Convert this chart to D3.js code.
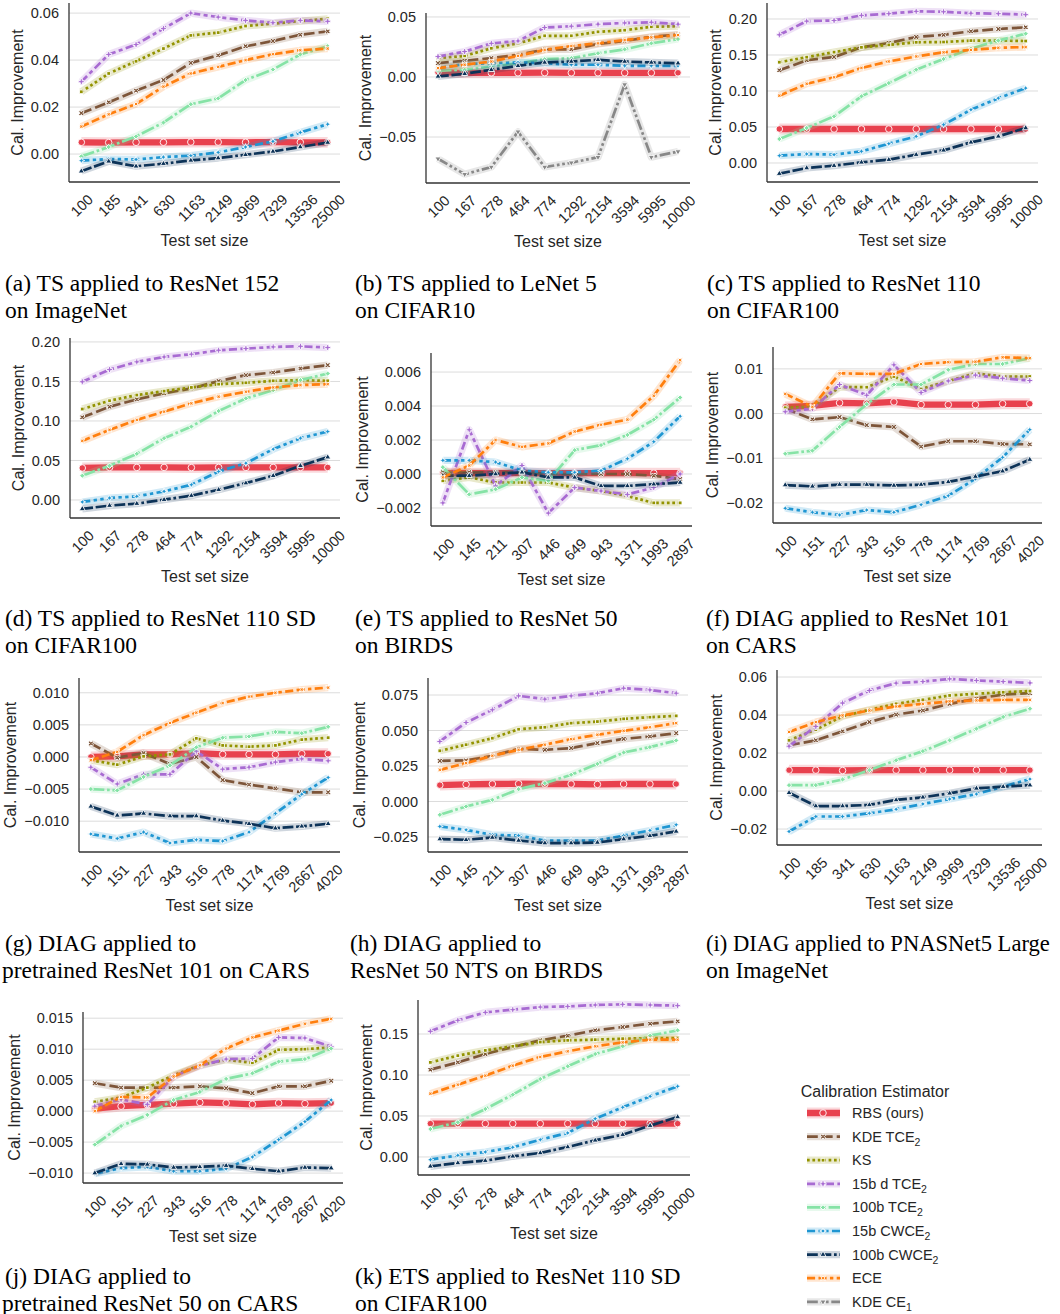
<!DOCTYPE html>
<html>
<head>
<meta charset="utf-8">
<script src="https://cdn.jsdelivr.net/npm/d3@7"></script>
<style>
  body { margin: 0; background: #fff; }
  svg { display: block; }
</style>
</head>
<body>
<script>
// ---- data ----
const estimators = [["RBS (ours)", ""], ["KDE TCE", "2"], ["KS", ""], ["15b d TCE", "2"],
    ["100b TCE", "2"], ["15b CWCE", "2"], ["100b CWCE", "2"], ["ECE", ""], ["KDE CE", "1"]];

const sizesImageNet = ["100", "185", "341", "630", "1163", "2149", "3969", "7329", "13536", "25000"];
const sizesCifar = ["100", "167", "278", "464", "774", "1292", "2154", "3594", "5995", "10000"];
const sizesBirds = ["100", "145", "211", "307", "446", "649", "943", "1371", "1993", "2897"];
const sizesCars = ["100", "151", "227", "343", "516", "778", "1174", "1769", "2667", "4020"];

// series order follows `estimators`
const tsResNet152ImageNet = [
    [0.0050, 0.0049, 0.0050, 0.0050, 0.0051, 0.0051, 0.0050, 0.0051, 0.0050, 0.0050],
    [0.0174, 0.0220, 0.0270, 0.0315, 0.0388, 0.0420, 0.0459, 0.0481, 0.0508, 0.0522],
    [0.0265, 0.0343, 0.0395, 0.0449, 0.0505, 0.0517, 0.0545, 0.0555, 0.0566, 0.0576],
    [0.0308, 0.0424, 0.0466, 0.0534, 0.0600, 0.0583, 0.0569, 0.0559, 0.0569, 0.0565],
    [-0.0010, 0.0030, 0.0075, 0.0134, 0.0212, 0.0237, 0.0315, 0.0360, 0.0424, 0.0459],
    [-0.0028, -0.0021, -0.0023, -0.0013, -0.0007, 0.0007, 0.0030, 0.0054, 0.0092, 0.0127],
    [-0.0073, -0.0031, -0.0052, -0.0041, -0.0027, -0.0017, -0.0003, 0.0011, 0.0030, 0.0049],
    [0.0117, 0.0169, 0.0213, 0.0287, 0.0343, 0.0371, 0.0400, 0.0425, 0.0442, 0.0449]
];
const tsLeNet5Cifar10 = [
    [0.0040, 0.0035, 0.0035, 0.0035, 0.0036, 0.0035, 0.0035, 0.0035, 0.0035, 0.0035],
    [0.0115, 0.0135, 0.0157, 0.0184, 0.0230, 0.0230, 0.0275, 0.0300, 0.0335, 0.0354],
    [0.0157, 0.0176, 0.0239, 0.0280, 0.0343, 0.0343, 0.0376, 0.0390, 0.0418, 0.0423],
    [0.0170, 0.0212, 0.0280, 0.0300, 0.0412, 0.0423, 0.0440, 0.0450, 0.0456, 0.0440],
    [0.0052, 0.0060, 0.0088, 0.0115, 0.0148, 0.0157, 0.0198, 0.0230, 0.0280, 0.0316],
    [0.0074, 0.0107, 0.0115, 0.0121, 0.0115, 0.0102, 0.0102, 0.0093, 0.0093, 0.0093],
    [0.0005, 0.0027, 0.0060, 0.0093, 0.0121, 0.0129, 0.0143, 0.0129, 0.0121, 0.0115],
    [0.0074, 0.0102, 0.0129, 0.0176, 0.0225, 0.0258, 0.0280, 0.0308, 0.0330, 0.0349],
    [-0.0681, -0.0810, -0.0750, -0.0456, -0.0750, -0.0714, -0.0668, -0.0063, -0.0668, -0.0621]
];
const tsResNet110Cifar100 = [
    [0.0472, 0.0472, 0.0472, 0.0472, 0.0472, 0.0472, 0.0472, 0.0472, 0.0472, 0.0472],
    [0.1287, 0.1426, 0.1472, 0.1606, 0.1667, 0.1750, 0.1780, 0.1829, 0.1861, 0.1884],
    [0.1400, 0.1470, 0.1540, 0.1606, 0.1640, 0.1676, 0.1680, 0.1700, 0.1700, 0.1694],
    [0.1780, 0.1970, 0.1980, 0.2050, 0.2074, 0.2106, 0.2100, 0.2080, 0.2074, 0.2060],
    [0.0333, 0.0486, 0.0648, 0.0926, 0.1110, 0.1296, 0.1444, 0.1588, 0.1700, 0.1796],
    [0.0102, 0.0125, 0.0116, 0.0162, 0.0268, 0.0370, 0.0532, 0.0740, 0.0900, 0.1040],
    [-0.0148, -0.0070, -0.0037, 0.0009, 0.0046, 0.0116, 0.0176, 0.0287, 0.0370, 0.0486],
    [0.0935, 0.1100, 0.1190, 0.1320, 0.1410, 0.1480, 0.1537, 0.1570, 0.1600, 0.1610]
];
const tsResNet110SDCifar100 = [
    [0.0405, 0.0412, 0.0412, 0.0412, 0.0410, 0.0412, 0.0412, 0.0412, 0.0412, 0.0412],
    [0.1046, 0.1180, 0.1273, 0.1349, 0.1412, 0.1504, 0.1580, 0.1613, 0.1664, 0.1706],
    [0.1151, 0.1256, 0.1328, 0.1378, 0.1424, 0.1466, 0.1483, 0.1508, 0.1517, 0.1508],
    [0.1496, 0.1650, 0.1748, 0.1810, 0.1845, 0.1895, 0.1916, 0.1937, 0.1945, 0.1929],
    [0.0307, 0.0433, 0.0584, 0.0782, 0.0929, 0.1126, 0.1286, 0.1390, 0.1517, 0.1600],
    [-0.0025, 0.0025, 0.0046, 0.0109, 0.0193, 0.0361, 0.0466, 0.0643, 0.0782, 0.0866],
    [-0.0113, -0.0071, -0.0046, 0.0004, 0.0055, 0.0130, 0.0214, 0.0307, 0.0433, 0.0542],
    [0.0748, 0.0887, 0.1013, 0.1118, 0.1223, 0.1307, 0.1370, 0.1424, 0.1454, 0.1466]
];
const tsResNet50Birds = [
    [0.00005, 0.00005, 0.00005, 0.00005, 0.00005, 0.00005, 0.00005, 0.00005, 0.00005, 0.00005],
    [0.0001, 0.0001, 0.0001, 0.0001, 0.0000, 0.0000, 0.0000, 0.0000, -0.0001, -0.0003],
    [-0.0004, -0.0002, -0.0005, -0.0005, -0.0005, -0.0008, -0.0010, -0.0013, -0.0017, -0.0017],
    [-0.0017, 0.0026, -0.0007, 0.0005, -0.0023, -0.0008, -0.0010, -0.0012, -0.0008, 0.0000],
    [0.0004, -0.0012, -0.0009, -0.0002, -0.0004, 0.0014, 0.0017, 0.0023, 0.0032, 0.0045],
    [0.0008, 0.0008, 0.0007, 0.0002, 0.0001, 0.0001, 0.0002, 0.0009, 0.0019, 0.0034],
    [-0.0001, -0.0001, 0.0000, 0.0001, -0.0002, -0.0002, -0.0007, -0.0007, -0.0006, -0.0005],
    [-0.0002, 0.0005, 0.0020, 0.0016, 0.0018, 0.0025, 0.0029, 0.0032, 0.0046, 0.0067]
];
const diagResNet101Cars = [
    [0.0015, 0.0017, 0.0024, 0.0023, 0.0026, 0.0020, 0.0020, 0.0020, 0.0022, 0.0022],
    [0.0011, -0.0013, -0.0008, -0.0026, -0.0030, -0.0074, -0.0062, -0.0062, -0.0068, -0.0069],
    [0.0013, 0.0015, 0.0059, 0.0059, 0.0083, 0.0055, 0.0073, 0.0090, 0.0083, 0.0083],
    [0.0004, 0.0011, 0.0065, 0.0041, 0.0109, 0.0047, 0.0073, 0.0086, 0.0079, 0.0074],
    [-0.0090, -0.0083, -0.0030, 0.0021, 0.0065, 0.0065, 0.0098, 0.0111, 0.0111, 0.0124],
    [-0.0212, -0.0221, -0.0227, -0.0216, -0.0221, -0.0204, -0.0184, -0.0146, -0.0098, -0.0036],
    [-0.0160, -0.0163, -0.0159, -0.0159, -0.0161, -0.0159, -0.0153, -0.0141, -0.0129, -0.0103],
    [0.0044, 0.0015, 0.0090, 0.0089, 0.0089, 0.0111, 0.0115, 0.0116, 0.0126, 0.0124]
];
const diagPretrainedResNet101Cars = [
    [0.0000, 0.0001, 0.0004, 0.0004, 0.0006, 0.0004, 0.0004, 0.0004, 0.0005, 0.0005],
    [0.0021, -0.0001, 0.0006, -0.0011, 0.0000, -0.0036, -0.0043, -0.0049, -0.0055, -0.0055],
    [-0.0005, -0.0012, 0.0001, 0.0004, 0.0029, 0.0018, 0.0016, 0.0018, 0.0027, 0.0030],
    [-0.0016, -0.0042, -0.0027, -0.0027, 0.0009, -0.0019, -0.0016, -0.0008, -0.0003, -0.0006],
    [-0.0050, -0.0052, -0.0031, -0.0013, 0.0015, 0.0030, 0.0032, 0.0039, 0.0037, 0.0047],
    [-0.0120, -0.0127, -0.0117, -0.0134, -0.0129, -0.0131, -0.0117, -0.0088, -0.0058, -0.0032],
    [-0.0077, -0.0091, -0.0088, -0.0092, -0.0092, -0.0099, -0.0104, -0.0111, -0.0108, -0.0104],
    [-0.0005, 0.0008, 0.0034, 0.0053, 0.0069, 0.0084, 0.0094, 0.0100, 0.0105, 0.0108]
];
const diagResNet50NtsBirds = [
    [0.0115, 0.0120, 0.0123, 0.0125, 0.0123, 0.0123, 0.0120, 0.0123, 0.0123, 0.0123],
    [0.0286, 0.0289, 0.0322, 0.0371, 0.0364, 0.0376, 0.0411, 0.0441, 0.0458, 0.0481],
    [0.0357, 0.0400, 0.0446, 0.0509, 0.0523, 0.0552, 0.0563, 0.0582, 0.0594, 0.0603],
    [0.0423, 0.0556, 0.0646, 0.0744, 0.0721, 0.0744, 0.0763, 0.0798, 0.0786, 0.0763],
    [-0.0094, -0.0035, 0.0012, 0.0087, 0.0129, 0.0188, 0.0265, 0.0345, 0.0383, 0.0430],
    [-0.0176, -0.0200, -0.0235, -0.0240, -0.0275, -0.0275, -0.0275, -0.0240, -0.0204, -0.0164],
    [-0.0265, -0.0270, -0.0254, -0.0275, -0.0293, -0.0293, -0.0289, -0.0265, -0.0242, -0.0211],
    [0.0223, 0.0270, 0.0322, 0.0364, 0.0400, 0.0439, 0.0470, 0.0498, 0.0523, 0.0552]
];
const diagPnasNet5ImageNet = [
    [0.0110, 0.0110, 0.0108, 0.0110, 0.0110, 0.0110, 0.0110, 0.0110, 0.0110, 0.0110],
    [0.0241, 0.0267, 0.0314, 0.0363, 0.0402, 0.0424, 0.0459, 0.0486, 0.0508, 0.0515],
    [0.0267, 0.0323, 0.0393, 0.0428, 0.0459, 0.0480, 0.0503, 0.0512, 0.0520, 0.0526],
    [0.0236, 0.0340, 0.0463, 0.0529, 0.0568, 0.0576, 0.0590, 0.0582, 0.0576, 0.0569],
    [0.0031, 0.0031, 0.0061, 0.0110, 0.0162, 0.0210, 0.0267, 0.0328, 0.0390, 0.0433],
    [-0.0213, -0.0134, -0.0134, -0.0117, -0.0096, -0.0068, -0.0042, -0.0016, 0.0023, 0.0063],
    [-0.0009, -0.0079, -0.0079, -0.0073, -0.0047, -0.0033, -0.0012, 0.0014, 0.0023, 0.0031],
    [0.0311, 0.0363, 0.0398, 0.0424, 0.0445, 0.0459, 0.0472, 0.0477, 0.0480, 0.0480]
];
const diagPretrainedResNet50Cars = [
    [0.0004, 0.0008, 0.0010, 0.0012, 0.0014, 0.0013, 0.0011, 0.0013, 0.0012, 0.0013],
    [0.0045, 0.0038, 0.0038, 0.0038, 0.0040, 0.0037, 0.0029, 0.0040, 0.0040, 0.0049],
    [0.0015, 0.0022, 0.0038, 0.0058, 0.0074, 0.0083, 0.0078, 0.0099, 0.0100, 0.0103],
    [0.0008, 0.0019, 0.0011, 0.0056, 0.0073, 0.0084, 0.0085, 0.0119, 0.0118, 0.0104],
    [-0.0054, -0.0024, -0.0006, 0.0018, 0.0031, 0.0052, 0.0061, 0.0080, 0.0084, 0.0101],
    [-0.0101, -0.0092, -0.0090, -0.0097, -0.0097, -0.0093, -0.0074, -0.0046, -0.0017, 0.0018],
    [-0.0100, -0.0085, -0.0086, -0.0091, -0.0090, -0.0088, -0.0093, -0.0097, -0.0091, -0.0092],
    [0.0000, 0.0023, 0.0022, 0.0056, 0.0074, 0.0101, 0.0119, 0.0130, 0.0141, 0.0149]
];
const etsResNet110SDCifar100 = [
    [0.0407, 0.0407, 0.0407, 0.0407, 0.0407, 0.0407, 0.0407, 0.0407, 0.0407, 0.0407],
    [0.1065, 0.1154, 0.1256, 0.1341, 0.1423, 0.1480, 0.1545, 0.1585, 0.1626, 0.1654],
    [0.1154, 0.1236, 0.1300, 0.1350, 0.1402, 0.1423, 0.1431, 0.1443, 0.1451, 0.1451],
    [0.1533, 0.1667, 0.1764, 0.1797, 0.1829, 0.1837, 0.1854, 0.1862, 0.1854, 0.1846],
    [0.0341, 0.0423, 0.0585, 0.0760, 0.0951, 0.1106, 0.1256, 0.1350, 0.1480, 0.1545],
    [-0.0033, 0.0020, 0.0061, 0.0118, 0.0211, 0.0293, 0.0467, 0.0606, 0.0740, 0.0862],
    [-0.0114, -0.0073, -0.0045, 0.0008, 0.0049, 0.0122, 0.0203, 0.0272, 0.0382, 0.0488],
    [0.0772, 0.0882, 0.0992, 0.1114, 0.1220, 0.1289, 0.1350, 0.1398, 0.1431, 0.1431]
];

const ticks006 = [0, 0.02, 0.04, 0.06];
const ticks005 = [-0.05, 0, 0.05];
const ticks020 = [0, 0.05, 0.10, 0.15, 0.20];
const ticksBirdsTs = [-0.002, 0, 0.002, 0.004, 0.006];
const ticksCarsTs = [-0.02, -0.01, 0, 0.01];
const ticks0010 = [-0.010, -0.005, 0, 0.005, 0.010];
const ticks0075 = [-0.025, 0, 0.025, 0.050, 0.075];
const ticksPnas = [-0.02, 0, 0.02, 0.04, 0.06];
const ticks0015 = [-0.010, -0.005, 0, 0.005, 0.010, 0.015];
const ticks015 = [0, 0.05, 0.10, 0.15];

const panels = [
    { id: "a", sizes: sizesImageNet, values: tsResNet152ImageNet, ticks: ticks006, fmt: ".2f",
      caption: ["(a) TS applied to ResNet 152", "on ImageNet"] },
    { id: "b", sizes: sizesCifar, values: tsLeNet5Cifar10, ticks: ticks005, fmt: ".2f",
      caption: ["(b) TS applied to LeNet 5", "on CIFAR10"] },
    { id: "c", sizes: sizesCifar, values: tsResNet110Cifar100, ticks: ticks020, fmt: ".2f",
      caption: ["(c) TS applied to ResNet 110", "on CIFAR100"] },
    { id: "d", sizes: sizesCifar, values: tsResNet110SDCifar100, ticks: ticks020, fmt: ".2f",
      caption: ["(d) TS applied to ResNet 110 SD", "on CIFAR100"] },
    { id: "e", sizes: sizesBirds, values: tsResNet50Birds, ticks: ticksBirdsTs, fmt: ".3f",
      caption: ["(e) TS applied to ResNet 50", "on BIRDS"] },
    { id: "f", sizes: sizesCars, values: diagResNet101Cars, ticks: ticksCarsTs, fmt: ".2f",
      caption: ["(f) DIAG applied to ResNet 101", "on CARS"] },
    { id: "g", sizes: sizesCars, values: diagPretrainedResNet101Cars, ticks: ticks0010, fmt: ".3f",
      caption: ["(g) DIAG applied to", "pretrained ResNet 101 on CARS"] },
    { id: "h", sizes: sizesBirds, values: diagResNet50NtsBirds, ticks: ticks0075, fmt: ".3f",
      caption: ["(h) DIAG applied to", "ResNet 50 NTS on BIRDS"] },
    { id: "i", sizes: sizesImageNet, values: diagPnasNet5ImageNet, ticks: ticksPnas, fmt: ".2f",
      caption: ["(i) DIAG applied to PNASNet5 Large", "on ImageNet"] },
    { id: "j", sizes: sizesCars, values: diagPretrainedResNet50Cars, ticks: ticks0015, fmt: ".3f",
      caption: ["(j) DIAG applied to", "pretrained ResNet 50 on CARS"] },
    { id: "k", sizes: sizesCifar, values: etsResNet110SDCifar100, ticks: ticks015, fmt: ".2f",
      caption: ["(k) ETS applied to ResNet 110 SD", "on CIFAR100"] }
];

// ---- layout & style ----
// axes box (l, t, r, b), y extent, caption x of each line and first baseline
const layout = {
    a: { l: 69, t: 3, r: 340, b: 182, y: [-0.0119, 0.0643], cx: [5, 5], cy: 291 },
    b: { l: 426, t: 13, r: 690, b: 183, y: [-0.0883, 0.0533], cx: [355, 355], cy: 291 },
    c: { l: 767, t: 3, r: 1038, b: 182, y: [-0.0264, 0.2222], cx: [707, 707], cy: 291 },
    d: { l: 70, t: 338, r: 340, b: 518, y: [-0.0228, 0.205], cx: [5, 5], cy: 626 },
    e: { l: 431, t: 353, r: 692, b: 526, y: [-0.00306, 0.00712], cx: [355, 355], cy: 626 },
    f: { l: 773, t: 347, r: 1042, b: 523, y: [-0.0245, 0.0149], cx: [706, 706], cy: 626 },
    g: { l: 79, t: 678, r: 340, b: 852, y: [-0.0148, 0.0123], cx: [5, 2], cy: 951 },
    h: { l: 428, t: 678, r: 688, b: 852, y: [-0.0356, 0.087], cx: [350, 350], cy: 951 },
    i: { l: 777, t: 670, r: 1042, b: 845, y: [-0.0284, 0.0637], cx: [706, 706], cy: 951 },
    j: { l: 83, t: 1012, r: 343, b: 1183, y: [-0.0116, 0.016], cx: [5, 2], cy: 1284 },
    k: { l: 418, t: 1000, r: 690, b: 1175, y: [-0.022, 0.1915], cx: [355, 355], cy: 1284 }
};

const colors = ["#e8414e", "#7d5539", "#939300", "#a86bd2", "#86e3a6", "#1f96d2", "#0d3358", "#ff7f0e", "#888888"];
// seaborn style dash patterns, in units of line width
const dashes = [[], [4, 1.5], [1, 1], [3, 1.25, 1.5, 1.25], [5, 1, 1, 1],
    [3, 1.25, 1.25, 1.25, 1.25, 1.25], [4, 1, 4, 1, 1, 1], [3, 1.25, 3, 1.25, 1.25, 1.25], [4, 1, 1, 1, 1, 1]];
const widths = [6.3, 2.7, 2.7, 2.7, 2.7, 2.7, 2.7, 2.7, 2.7];

const star4 = {
    draw(ctx, size) {
        const r = Math.sqrt(size) * 0.8, ri = r * 0.4;
        for (let k = 0; k < 8; k++) {
            const a = k * Math.PI / 4 - Math.PI / 2, rr = k % 2 ? ri : r;
            if (k) ctx.lineTo(rr * Math.cos(a), rr * Math.sin(a)); else ctx.moveTo(rr * Math.cos(a), rr * Math.sin(a));
        }
        ctx.closePath();
    }
};
const markers = [
    { type: d3.symbolCircle, rot: 0, size: 34 },
    { type: d3.symbolCross, rot: 45, size: 18 },
    { type: d3.symbolSquare, rot: 0, size: 14 },
    { type: d3.symbolCross, rot: 0, size: 20 },
    { type: d3.symbolSquare, rot: 45, size: 14 },
    { type: star4, rot: 0, size: 18 },
    { type: d3.symbolTriangle, rot: 0, size: 16 },
    { type: star4, rot: 45, size: 18 },
    { type: d3.symbolTriangle, rot: 180, size: 16 }
];

const SANS = "'Liberation Sans', Arial, sans-serif";
const SERIF = "'Liberation Serif', 'Times New Roman', serif";
const tickSize = 14.5;
const labelSize = 16;
const captionSize = 23.5;

const svg = d3.select("body").append("svg").attr("width", 1060).attr("height", 1314);

function drawSeries(g, i, pts, markerPts) {
    const lw = widths[i];
    const line = d3.line().x(d => d[0]).y(d => d[1]);
    g.append("path").attr("d", line(pts)).attr("fill", "none")
        .attr("stroke", colors[i]).attr("stroke-opacity", 0.2)
        .attr("stroke-width", lw + 4.5).attr("stroke-linejoin", "round");
    g.append("path").attr("d", line(pts)).attr("fill", "none")
        .attr("stroke", colors[i]).attr("stroke-width", lw)
        .attr("stroke-dasharray", dashes[i].map(v => v * lw).join(","));
    const m = markers[i];
    g.selectAll(null).data(markerPts || pts).join("path")
        .attr("d", d3.symbol().type(m.type).size(m.size))
        .attr("transform", d => `translate(${d[0]},${d[1]}) rotate(${m.rot})`)
        .attr("fill", colors[i]).attr("stroke", "#fff").attr("stroke-width", 0.9);
}

function drawPanel(p) {
    const L = layout[p.id];
    const x = d3.scalePoint().domain(p.sizes).range([L.l, L.r]).padding(0.45);
    const y = d3.scaleLinear().domain(L.y).range([L.b, L.t]);
    const g = svg.append("g");

    g.selectAll(null).data(p.ticks).join("line")
        .attr("x1", L.l).attr("x2", L.r)
        .attr("y1", d => y(d)).attr("y2", d => y(d))
        .attr("stroke", "#dcdcdc").attr("stroke-width", 1);

    const yAxis = g.append("g").attr("transform", `translate(${L.l},0)`)
        .call(d3.axisLeft(y).tickValues(p.ticks).tickFormat(d3.format(p.fmt)).tickSize(0).tickPadding(10));
    yAxis.select(".domain").remove();
    yAxis.attr("font-family", SANS).attr("font-size", tickSize);
    yAxis.selectAll("text").attr("fill", "#262626");

    const xAxis = g.append("g").attr("transform", `translate(0,${L.b})`)
        .call(d3.axisBottom(x).tickSize(0).tickPadding(0));
    xAxis.select(".domain").remove();
    xAxis.attr("font-family", SANS).attr("font-size", tickSize);
    let maxH = 0;
    xAxis.selectAll("text").each(function () {
        const len = this.getComputedTextLength();
        const h = (len + tickSize * 0.75) * Math.SQRT1_2;
        maxH = Math.max(maxH, h);
        d3.select(this).attr("fill", "#262626").attr("y", 0).attr("dy", "0.35em")
            .attr("text-anchor", "middle")
            .attr("transform", `translate(0,${11 + h / 2}) rotate(-45)`);
    });

    const lines = g.append("g");
    p.values.forEach((vals, i) => {
        drawSeries(lines, i, vals.map((v, j) => [x(p.sizes[j]), y(v)]));
    });

    g.append("line").attr("x1", L.l).attr("x2", L.l).attr("y1", L.t).attr("y2", L.b)
        .attr("stroke", "#333").attr("stroke-width", 1.3);
    g.append("line").attr("x1", L.l).attr("x2", L.r).attr("y1", L.b).attr("y2", L.b)
        .attr("stroke", "#333").attr("stroke-width", 1.3);

    const bb = yAxis.node().getBBox();
    const lx = L.l + bb.x - 8, ly = (L.t + L.b) / 2;
    g.append("text").attr("transform", `translate(${lx},${ly}) rotate(-90)`)
        .attr("text-anchor", "middle").attr("font-family", SANS).attr("font-size", labelSize)
        .attr("fill", "#262626").text("Cal. Improvement");

    g.append("text").attr("x", (L.l + L.r) / 2).attr("y", L.b + 11 + maxH + 17)
        .attr("text-anchor", "middle").attr("font-family", SANS).attr("font-size", labelSize)
        .attr("fill", "#262626").text("Test set size");

    p.caption.forEach((c, k) => {
        const t = svg.append("text").attr("x", L.cx[k]).attr("y", L.cy + k * 26.5)
            .attr("font-family", SERIF).attr("font-size", captionSize).attr("fill", "#000").text(c);
        // shrink a caption line that would run past the right edge
        const room = 1050 - L.cx[k];
        const len = t.node().getComputedTextLength();
        if (len > room) t.attr("font-size", captionSize * room / len);
    });
}

panels.forEach(drawPanel);

// legend
const leg = svg.append("g");
leg.append("text").attr("x", 875).attr("y", 1097).attr("text-anchor", "middle")
    .attr("font-family", SANS).attr("font-size", 16).attr("fill", "#262626").text("Calibration Estimator");
estimators.forEach((e, i) => {
    const cy = 1113 + i * 23.6;
    drawSeries(leg, i, [[807, cy], [840, cy]], [[823, cy]]);
    const t = leg.append("text").attr("x", 852).attr("y", cy + 5)
        .attr("font-family", SANS).attr("font-size", 14.5).attr("fill", "#262626").text(e[0]);
    if (e[1]) t.append("tspan").attr("dy", 4).attr("font-size", 10.5).text(e[1]);
});
</script>
</body>
</html>
